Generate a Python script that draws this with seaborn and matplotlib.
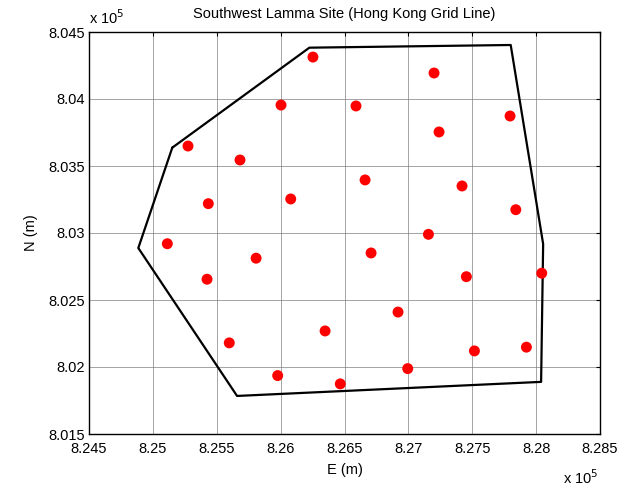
import numpy as np
import pandas as pd
import seaborn as sns
import matplotlib
matplotlib.use("Agg")
import matplotlib.pyplot as plt

# site points (Hong Kong grid, m)
pts_e = [826253, 827201, 826003, 826590, 827796, 827240, 825275, 825682,
         826661, 827420, 825434, 826079, 827841, 827157, 825113, 826708,
         825808, 825424, 827454, 828044, 826919, 826348, 825598, 827517,
         827924, 825977, 826467, 826995]
pts_n = [804313, 804194, 803955, 803948, 803873, 803754, 803649, 803545,
         803396, 803351, 803219, 803254, 803174, 802990, 802920, 802851,
         802812, 802655, 802674, 802700, 802410, 802269, 802180, 802120,
         802148, 801936, 801874, 801988]

# boundary polygon
bnd_e = [825152, 826225, 827801, 828055, 828039, 825659, 824886, 825152]
bnd_n = [803637, 804383, 804403, 802918, 801889, 801784, 802888, 803637]

xticks = [824500, 825000, 825500, 826000, 826500, 827000, 827500, 828000, 828500]
xlabels = ["8.245", "8.25", "8.255", "8.26", "8.265", "8.27", "8.275", "8.28", "8.285"]
yticks = [801500, 802000, 802500, 803000, 803500, 804000, 804500]
ylabels = ["8.015", "8.02", "8.025", "8.03", "8.035", "8.04", "8.045"]

sns.set_style("white")
plt.rcParams['font.family'] = ['Liberation Sans', 'DejaVu Sans']
plt.rcParams['text.color'] = 'black'
plt.rcParams['axes.labelcolor'] = 'black'

fs = 10.5
fig = plt.figure(figsize=(6.34, 4.88), dpi=100)
ax = fig.add_axes([89/634, 54/488, 511/634, 402/488])

df_pts = pd.DataFrame({"E": pts_e, "N": pts_n})
df_bnd = pd.DataFrame({"E": bnd_e, "N": bnd_n})

ax.plot(df_bnd["E"], df_bnd["N"], color="black", lw=1.6, zorder=3)
sns.scatterplot(data=df_pts, x="E", y="N", color="red", s=62,
                edgecolor="none", ax=ax, zorder=4)

ax.set_xlim(824500, 828500)
ax.set_ylim(801500, 804500)
ax.set_xticks(xticks)
ax.set_xticklabels(xlabels)
ax.set_yticks(yticks)
ax.set_yticklabels(ylabels)
ax.grid(True, color="#7a7a7a", lw=0.6, alpha=0.8)
ax.set_axisbelow(True)
ax.tick_params(direction="in", length=3, width=0.8, top=True, right=True,
               labelsize=fs, colors="black")
ax.tick_params(axis="x", pad=6)
ax.tick_params(axis="y", pad=3)
for s in ax.spines.values():
    s.set_color("black")
    s.set_linewidth(1.0)

ax.set_xlabel("E (m)", fontsize=fs, labelpad=5)
ax.set_ylabel("N (m)", fontsize=fs, labelpad=7)
ax.set_title("Southwest Lamma Site (Hong Kong Grid Line)", fontsize=fs, pad=10)

fig.text(89/634, 1 - 18/488, r"x 10$^5$", fontsize=fs, ha="left", va="center")
fig.text(563/634, 1 - 478/488, r"x 10$^5$", fontsize=fs, ha="left", va="center")

fig.savefig("out.png", dpi=100)
